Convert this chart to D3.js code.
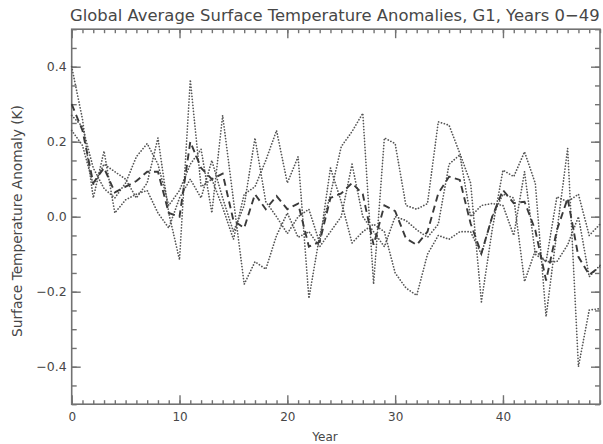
<!DOCTYPE html>
<html>
<head>
<meta charset="utf-8">
<script src="https://cdn.jsdelivr.net/npm/d3@7"></script>
<style>
  html, body { margin: 0; padding: 0; background: #fff; }
  svg { display: block; }
  text { font-family: "DejaVu Sans", "Liberation Sans", sans-serif; fill: #474747; }
</style>
</head>
<body>
<svg id="chart" width="603" height="444"></svg>
<script>
// Years of the run (x categories)
const years = d3.range(0, 50);

// Three ensemble members (dotted)
const member1 = [0.40, 0.26, 0.05, 0.175, 0.01, 0.045, 0.06, 0.07, 0.01, -0.03,
                 0.05, 0.10, 0.05, 0.15, 0.05, -0.04, 0.03, 0.21, 0.04, 0.0,
                 -0.045, 0.0, 0.02, -0.07, 0.13, 0.04, -0.07, -0.04, -0.02, -0.04,
                 -0.15, -0.19, -0.21, -0.10, -0.05, -0.06, -0.04, -0.04, -0.10, 0.0,
                 0.06, 0.05, -0.173, -0.09, -0.12, 0.053, 0.04, 0.06, -0.05, -0.02];
const member2 = [0.27, 0.24, 0.13, 0.075, 0.05, 0.09, 0.16, 0.195, 0.14, 0.03,
                 0.07, 0.14, 0.18, 0.01, 0.27, 0.045, -0.18, -0.12, -0.14, -0.05,
                 0.01, -0.055, -0.04, -0.08, -0.04, 0.0, 0.14, 0.0, -0.04, -0.08,
                 0.0, -0.01, -0.035, -0.055, -0.02, 0.14, 0.165, 0.0, 0.03, 0.035,
                 0.03, -0.05, 0.12, -0.10, -0.12, -0.12, -0.075, 0.0, -0.16, -0.13];
const member3 = [0.23, 0.19, 0.085, 0.14, 0.12, 0.10, 0.05, 0.09, 0.21, 0.01,
                 -0.115, 0.365, 0.08, 0.10, 0.025, -0.06, 0.06, 0.08, 0.15, 0.23,
                 0.09, 0.16, -0.218, -0.05, 0.06, 0.187, 0.227, 0.276, -0.18, 0.21,
                 0.195, 0.03, 0.02, 0.035, 0.253, 0.244, 0.169, 0.09, -0.227, -0.035,
                 0.124, 0.107, 0.173, 0.089, -0.267, -0.04, 0.182, -0.40, -0.249, -0.245];
// Ensemble mean (dashed)
const ensembleMean = [0.30, 0.23, 0.09, 0.13, 0.065, 0.08, 0.095, 0.12, 0.12, 0.01,
                      0.0, 0.20, 0.13, 0.10, 0.115, -0.01, -0.03, 0.06, 0.02, 0.055,
                      0.02, 0.035, -0.08, -0.067, 0.05, 0.062, 0.09, 0.06, -0.075, 0.03,
                      0.015, -0.058, -0.075, -0.04, 0.062, 0.107, 0.098, -0.018, -0.098, 0.0,
                      0.071, 0.036, 0.04, -0.036, -0.17, -0.036, 0.049, -0.107, -0.155, -0.133];

// Axis ticks
const xMajorTicks = [0, 10, 20, 30, 40];
const xMinorTicks = d3.range(0, 50, 1);
const yMajorTicks = [-0.4, -0.2, 0.0, 0.2, 0.4];
const yMinorTicks = d3.range(-10, 11).map(k => k * 0.05);

const titleText = "Global Average Surface Temperature Anomalies, G1, Years 0\u221249";
const xTitle = "Year";
const yTitle = "Surface Temperature Anomaly (K)";

const svg = d3.select("#chart");
const plot = { left: 71.7, right: 600, top: 29.2, bottom: 404.2 };

const x = d3.scaleLinear().domain([0, 49]).range([plot.left, plot.right]);
const y = d3.scaleLinear().domain([-0.5, 0.5]).range([plot.bottom, plot.top]);

const axisColor = "#727272";
const fmtY = v => (v < 0 ? "\u2212" : "") + Math.abs(v).toFixed(1);

function styleAxis(g) {
  g.select(".domain").remove();
  g.selectAll(".tick line").attr("stroke", axisColor).attr("stroke-width", 1.4);
  g.selectAll(".tick text").attr("fill", "#474747");
}

// Minor ticks (inward) on all four sides
svg.append("g").attr("transform", `translate(0,${plot.bottom})`)
  .call(d3.axisBottom(x).tickValues(xMinorTicks).tickSize(-4).tickFormat(""))
  .call(styleAxis);
svg.append("g").attr("transform", `translate(0,${plot.top})`)
  .call(d3.axisTop(x).tickValues(xMinorTicks).tickSize(-4).tickFormat(""))
  .call(styleAxis);
svg.append("g").attr("transform", `translate(${plot.left},0)`)
  .call(d3.axisLeft(y).tickValues(yMinorTicks).tickSize(-5).tickFormat(""))
  .call(styleAxis);
svg.append("g").attr("transform", `translate(${plot.right},0)`)
  .call(d3.axisRight(y).tickValues(yMinorTicks).tickSize(-5).tickFormat(""))
  .call(styleAxis);

// Major ticks with labels
const xAxisG = svg.append("g").attr("transform", `translate(0,${plot.bottom})`)
  .call(d3.axisBottom(x).tickValues(xMajorTicks).tickSize(-9).tickPadding(8).tickFormat(d3.format("d")))
  .call(styleAxis);
xAxisG.selectAll(".tick text").attr("font-size", 12).attr("dy", "0.71em")
  .attr("font-family", "DejaVu Sans");
svg.append("g").attr("transform", `translate(0,${plot.top})`)
  .call(d3.axisTop(x).tickValues(xMajorTicks).tickSize(-9).tickFormat(""))
  .call(styleAxis);
const yAxisG = svg.append("g").attr("transform", `translate(${plot.left},0)`)
  .call(d3.axisLeft(y).tickValues(yMajorTicks).tickSize(-9).tickPadding(5).tickFormat(fmtY))
  .call(styleAxis);
yAxisG.selectAll(".tick text").attr("font-size", 12.5).attr("font-family", "DejaVu Sans");
svg.append("g").attr("transform", `translate(${plot.right},0)`)
  .call(d3.axisRight(y).tickValues(yMajorTicks).tickSize(-9).tickFormat(""))
  .call(styleAxis);

// Frame
svg.append("rect")
  .attr("x", plot.left).attr("y", plot.top)
  .attr("width", plot.right - plot.left).attr("height", plot.bottom - plot.top)
  .attr("fill", "none").attr("stroke", axisColor).attr("stroke-width", 1.6);

// Series
const line = d3.line().x((d, i) => x(years[i])).y(d => y(d));
const plotArea = svg.append("g");
[member1, member2, member3].forEach(series => {
  plotArea.append("path")
    .datum(series)
    .attr("d", line)
    .attr("fill", "none")
    .attr("stroke", "#555")
    .attr("stroke-width", 1.7)
    .attr("stroke-linecap", "round")
    .attr("stroke-dasharray", "0.1,2.9")
    .attr("stroke-linejoin", "round");
});
plotArea.append("path")
  .datum(ensembleMean)
  .attr("d", line)
  .attr("fill", "none")
  .attr("stroke", "#3a3a3a")
  .attr("stroke-width", 1.9)
  .attr("stroke-dasharray", "7,4.5");

// Title, sized to span the plot width
const title = svg.append("text")
  .attr("x", (plot.left + plot.right) / 2 - 1)
  .attr("y", 21)
  .attr("text-anchor", "middle")
  .attr("font-size", 15)
  .text(titleText);
const tw = title.node().getComputedTextLength();
title.attr("font-size", 15 * 530 / tw);

svg.append("text")
  .attr("x", 325).attr("y", 441)
  .attr("text-anchor", "middle")
  .attr("font-size", 12)
  .text(xTitle);

const yt = svg.append("text")
  .attr("transform", `translate(22,221) rotate(-90)`)
  .attr("text-anchor", "middle")
  .attr("font-size", 12)
  .text(yTitle);
const yw = yt.node().getComputedTextLength();
yt.attr("font-size", 12 * 232 / yw);
</script>
</body>
</html>
